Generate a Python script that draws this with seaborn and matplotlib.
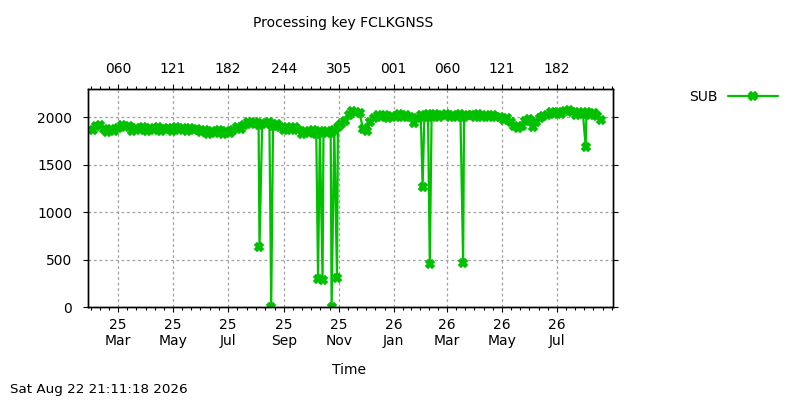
import numpy as np
import pandas as pd
import matplotlib
matplotlib.use("Agg")
import matplotlib.pyplot as plt
import matplotlib.dates as mdates
from matplotlib.lines import Line2D
import seaborn as sns

# ---------------- data ----------------
title = "Processing key FCLKGNSS"
series_name = "SUB"
x_label = "Time"
footer = "Sat Aug 22 21:11:18 2026"

start_date = "2025-02-01"
step_days = 4
base_values = [
    1865, 1910, 1920, 1880,
    1850, 1880, 1855,
    1890, 1920, 1895, 1915,
    1855, 1890, 1865, 1895, 1860, 1885, 1870, 1895, 1858, 1880, 1890,
    1860, 1895, 1870, 1890, 1855, 1885, 1865, 1880, 1850, 1870,
    1830, 1860, 1835, 1865, 1828, 1855, 1840,
    1870, 1900, 1875,
    1920, 1950, 1930, 1955, 1925, 1945, 1930, 1950,
    1905, 1930, 1900,
    1870, 1900, 1865, 1895, 1870,
    1830, 1860, 1835, 1865, 1830, 1858, 1838, 1862, 1835,
    1870, 1895,
    1935, 1965,
    2030, 2070, 2060, 2045,
    1880, 1855,
    1950,
    1995, 2025, 2000, 2030, 1995, 2020, 2005, 2035, 2010, 2025,
    2000, 1945, 1990,
    2030, 2005, 2035, 2010, 2040, 2000, 2025, 2035, 2005, 2030,
    2010, 2035, 2000, 2025, 2030, 2005, 2035, 2010, 2025, 2000,
    2030, 2010,
    2000, 1975, 1990,
    1950, 1905, 1885, 1915,
    1960, 1980,
    1895,
    1955,
    1995, 2015,
    2030, 2055, 2035, 2060, 2040, 2065,
    2075, 2060,
    2030, 2055, 2035, 2060, 2030, 2050,
    2015, 1970,
]
dip_dates = ["2025-08-05", "2025-08-18", "2025-10-09", "2025-10-14", "2025-10-24",
             "2025-10-30", "2026-02-02", "2026-02-10", "2026-03-19", "2026-08-02"]
dip_values = [638, 0, 298, 287, 0, 312, 1269, 453, 469, 1690]

y_ticks = [0, 500, 1000, 1500, 2000]
y_limits = [0, 2300]
x_major_dates = ["2025-03-01", "2025-05-01", "2025-07-01", "2025-09-01", "2025-11-01",
                 "2026-01-01", "2026-03-01", "2026-05-01", "2026-07-01"]
x_limits = ["2025-01-27", "2026-09-01"]

# ---------------- style ----------------
green = "#00c000"
grid_color = "#a0a0a0"
sns.set_theme(style="ticks")
plt.rcParams["font.family"] = ["DejaVu Sans"]
for k in ["text.color", "axes.labelcolor", "xtick.color", "ytick.color", "axes.edgecolor"]:
    plt.rcParams[k] = "black"

base_dates = pd.date_range(start_date, periods=len(base_values), freq=f"{step_days}D")
df = pd.DataFrame({
    "date": list(base_dates) + list(pd.to_datetime(dip_dates)),
    "value": list(base_values) + list(dip_values),
}).sort_values("date").reset_index(drop=True)

fig = plt.figure(figsize=(8, 4), dpi=100)
L, R, T, B = 88.3, 612.7, 89.0, 307.3
ax = fig.add_axes([L / 800, 1 - B / 400, (R - L) / 800, (B - T) / 400])

sns.lineplot(data=df, x="date", y="value", ax=ax, color=green, linewidth=1.6,
             marker="X", markersize=6, markeredgecolor=green, markeredgewidth=1.3,
             estimator=None, errorbar=None, label=series_name)
if ax.get_legend() is not None:
    ax.get_legend().remove()

majors = pd.to_datetime(x_major_dates)
major_nums = mdates.date2num(majors)
xl = mdates.date2num(pd.to_datetime(x_limits))
minor_nums = []
step = np.mean(np.diff(major_nums)) / 6
for a, b in zip(major_nums[:-1], major_nums[1:]):
    minor_nums += list(np.linspace(a, b, 7)[1:-1])
k = 1
while major_nums[0] - k * step > xl[0]:
    minor_nums.append(major_nums[0] - k * step); k += 1
k = 1
while major_nums[-1] + k * step < xl[1] - 0.5:
    minor_nums.append(major_nums[-1] + k * step); k += 1

ax.set_xlim(xl)
ax.set_ylim(y_limits)
ax.set_xticks(major_nums)
ax.set_xticklabels([d.strftime("%y\n%b") for d in majors])
ax.set_xticks(minor_nums, minor=True)
ax.set_yticks(y_ticks)
ax.set_yticklabels([str(v) for v in y_ticks])
ax.set_xlabel("")
ax.set_ylabel("")
ax.grid(True, which="major", color=grid_color, linestyle=(0, (2.2, 2.2)), linewidth=0.9)
ax.tick_params(axis="x", which="major", direction="out", length=3.5, width=0.8,
               labelsize=10, pad=4, bottom=True, top=False)
ax.tick_params(axis="x", which="minor", direction="out", length=2.2, width=0.8,
               bottom=True, top=False)
ax.tick_params(axis="y", which="major", direction="out", length=3.5, width=0.8,
               labelsize=10, pad=8, left=True, right=True, labelright=False)
for s in ax.spines.values():
    s.set_visible(True)
    s.set_linewidth(1.0)
    s.set_color("black")

ax_top = ax.twiny()
ax_top.set_xlim(xl)
ax_top.set_xticks(major_nums)
ax_top.set_xticklabels([d.strftime("%j") for d in majors])
ax_top.set_xticks(minor_nums, minor=True)
ax_top.tick_params(axis="x", which="major", direction="out", length=3.5, width=0.8,
                   labelsize=10, pad=6, top=True, bottom=False)
ax_top.tick_params(axis="x", which="minor", direction="out", length=2.2, width=0.8,
                   top=True, bottom=False)
for s in ax_top.spines.values():
    s.set_linewidth(1.0)
    s.set_color("black")

fig.text(343.5 / 800, 1 - 23 / 400, title, ha="center", va="center", fontsize=10)
fig.text(349.5 / 800, 1 - 370 / 400, x_label, ha="center", va="center", fontsize=10)
fig.text(10 / 800, 1 - 390 / 400, footer, ha="left", va="center", fontsize=9.7)

handle = Line2D([], [], color=green, linewidth=1.6, marker="X", markersize=6,
                markeredgecolor=green, markeredgewidth=1.3)
fig.legend([handle], [series_name], loc="center right",
           bbox_to_anchor=(778 / 800, 1 - 97 / 400), frameon=False, markerfirst=False,
           handlelength=3.6, handletextpad=0.75, borderpad=0, borderaxespad=0,
           fontsize=10, numpoints=1)

fig.savefig("out.png", dpi=100)
